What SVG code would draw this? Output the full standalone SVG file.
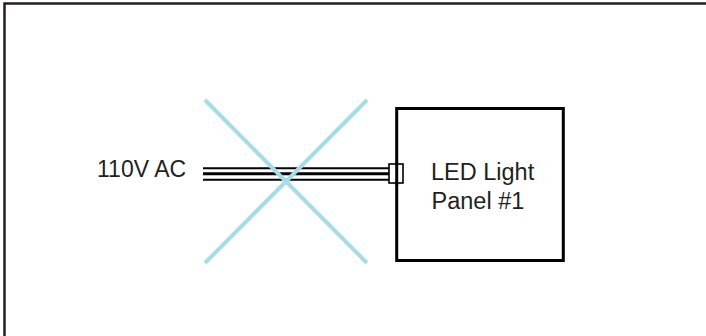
<svg xmlns="http://www.w3.org/2000/svg" width="706" height="336" viewBox="0 0 706 336">
<style>
.lbl{font-family:"Liberation Sans",Arial,sans-serif;font-size:23.5px;fill:#231f20}
.wire{stroke:#000;fill:none}
.x{stroke:#a6dbe8;stroke-width:4;fill:none}
</style>
<rect x="0" y="0" width="706" height="336" fill="#fff"/>
<g id="frame"><path d="M4.5,336 V3.5 H706" fill="none" stroke="#231f20" stroke-width="2.5"/></g>
<g id="connectors">
<line class="wire" x1="203" y1="168.3" x2="389" y2="168.3" stroke-width="2"/>
<line class="wire" x1="203" y1="173.8" x2="389" y2="173.8" stroke-width="3"/>
<line class="wire" x1="203" y1="179.7" x2="389" y2="179.7" stroke-width="2"/>
</g>
<g id="cross">
<line class="x" x1="205" y1="100" x2="367" y2="263"/>
<line class="x" x1="367" y1="100" x2="205" y2="263"/>
</g>
<g id="source"><text class="lbl" x="97" y="177" style="font-size:23px">110V AC</text></g>
<g id="panel">
<rect x="396.7" y="108.5" width="166.6" height="152" fill="none" stroke="#000" stroke-width="3"/>
<rect x="389" y="164" width="14" height="19" fill="#fff" stroke="#000" stroke-width="1.6"/>
<line x1="396.7" y1="162" x2="396.7" y2="185" stroke="#000" stroke-width="3"/>
<text class="lbl" x="431" y="180">LED Light</text>
<text class="lbl" x="431.5" y="208.5">Panel #1</text>
</g>
</svg>
